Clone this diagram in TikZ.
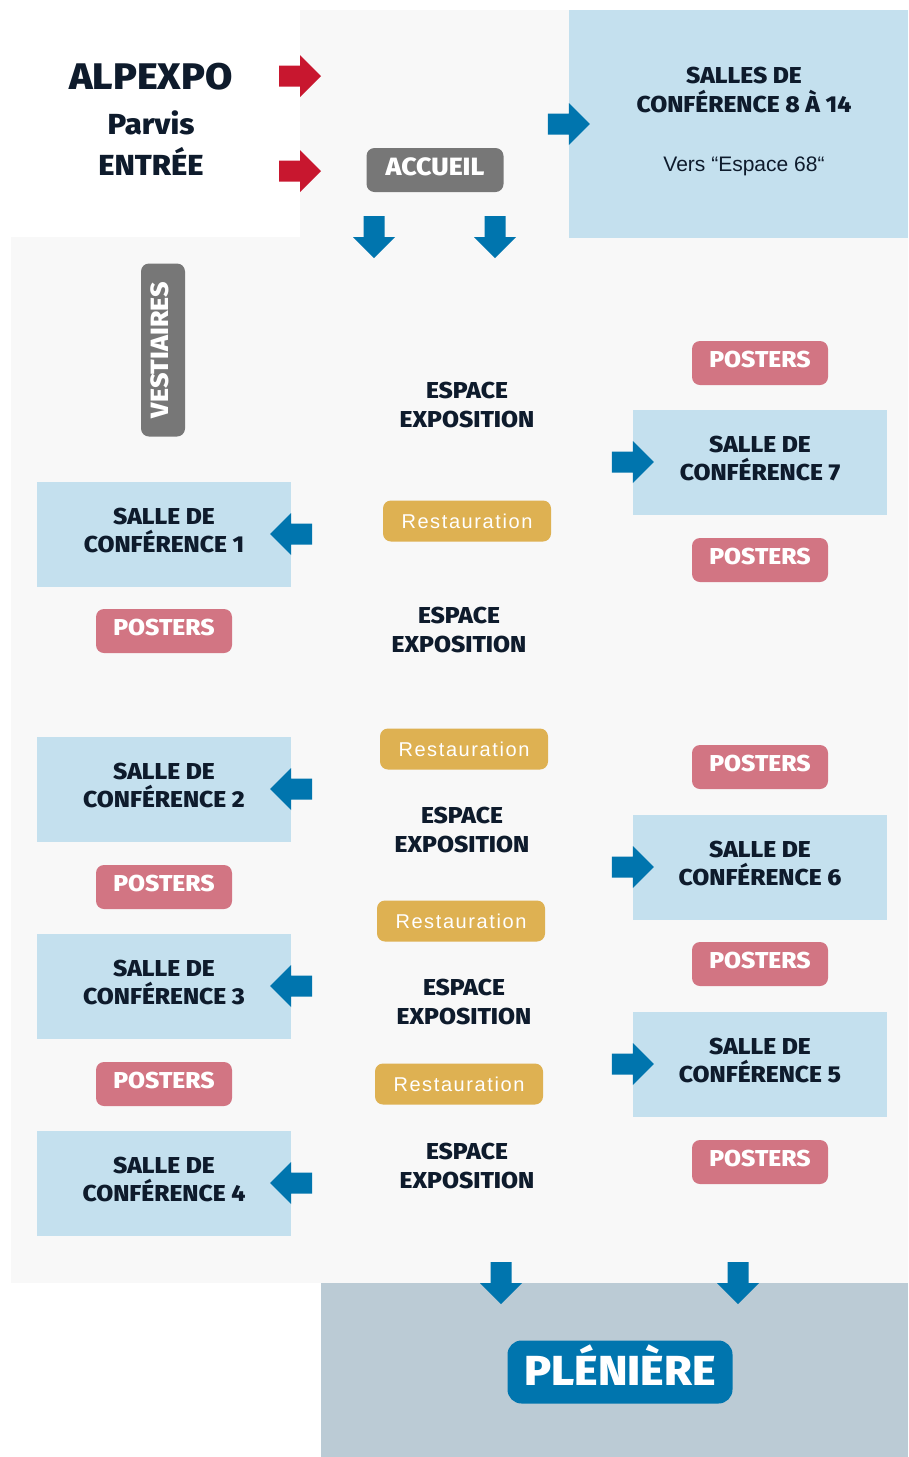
\documentclass[tikz,border=0pt]{standalone}
\usepackage{fontspec}
\setmainfont{Fira Sans}[BoldFont={Fira Sans ExtraBold}, BoldFeatures={FakeStretch=1.07}]
\newfontfamily\plainfont{Liberation Sans}
\newfontfamily\spacedfont{Liberation Sans}[LetterSpace=8]
\definecolor{hallgray}{HTML}{F8F8F8}
\definecolor{roomblue}{HTML}{C4E0EE}
\definecolor{inknavy}{HTML}{0E1B2C}
\definecolor{btngray}{HTML}{777777}
\definecolor{posterrose}{HTML}{D27583}
\definecolor{foodgold}{HTML}{DEB152}
\definecolor{arrowblue}{HTML}{0075AE}
\definecolor{entryred}{HTML}{C8172F}
\definecolor{plenbg}{HTML}{BBCBD5}
\tikzset{
  room/.style={fill=roomblue, text=inknavy, minimum width=254, minimum height=105,
    inner sep=0, align=center, text depth=8pt, font=\bfseries\fontsize{23}{28}\selectfont},
  poster/.style={fill=posterrose, text=white, rounded corners=8, minimum width=136,
    minimum height=44, inner sep=0, text depth=7pt, font=\bfseries\fontsize{23}{28}\selectfont},
  resto/.style={fill=foodgold, text=white, rounded corners=8, minimum width=168,
    minimum height=41, inner sep=0, font=\spacedfont\fontsize{20}{24}\selectfont},
  expo/.style={text=inknavy, align=center, inner sep=0, font=\bfseries\fontsize{23}{28.5}\selectfont},
  greybtn/.style={fill=btngray, text=white, rounded corners=8, inner sep=0, text depth=7pt,
    font=\bfseries\fontsize{25}{28}\selectfont},
  bigarrow/.pic={\fill (-21,-10.5) -- (0,-10.5) -- (0,-21) -- (21,0) -- (0,21) -- (0,10.5) -- (-21,10.5) -- cycle;}
}

\begin{document}
\begin{tikzpicture}[x=1pt, y=-1pt]
    \useasboundingbox (0,0) rectangle (908,1457);

    % Halls
    \fill[hallgray] (300,10) rectangle (569,237); % entrance hall
    \fill[hallgray] (11,237) rectangle (908,1283); % main hall
    \fill[plenbg] (321,1283) rectangle (908,1457); % plenary

    % Entrance
    \node[text=inknavy, font=\bfseries\fontsize{37}{40}\selectfont] (alpexpo) at (151,77) {ALPEXPO};
    \node[text=inknavy, font=\bfseries\fontsize{29}{30}\selectfont] (parvis) at (151,123) {Parvis};
    \node[text=inknavy, font=\bfseries\fontsize{29}{30}\selectfont] (entree) at (151,161) {ENTRÉE};
    \foreach \y in {76, 171}
        \pic[entryred] at (300,\y) {bigarrow};

    \node[greybtn, minimum width=137, minimum height=44] (accueil) at (435,170) {ACCUEIL};
    \foreach \x in {374, 495}
        \pic[arrowblue, rotate=-90] at (\x,237) {bigarrow};

    % Rooms 8 to 14
    \node[room, minimum width=339, minimum height=228] (s814) at (738.5,124) {};
    \node[text=inknavy, align=center, font=\bfseries\fontsize{23}{29}\selectfont] (s814title) at (744,90) {SALLES DE\\CONFÉRENCE 8 À 14};
    \node[text=inknavy, font=\plainfont\fontsize{21}{24}\selectfont] (s814note) at (744,166) {Vers “Espace 68“};
    \pic[arrowblue] at (s814.west) {bigarrow};

    \node[greybtn, rotate=90, minimum width=173, minimum height=44] (vestiaires) at (163,350) {VESTIAIRES};

    % Rooms on the left
    \foreach \n/\y in {1/534, 2/789, 3/986, 4/1183} {
        \node[room] (s\n) at (164,\y) {SALLE DE\\CONFÉRENCE \n};
        \pic[arrowblue, rotate=180] at (s\n.east) {bigarrow};
    }
    % Rooms on the right
    \foreach \n/\y in {7/462, 6/867, 5/1064} {
        \node[room] (s\n) at (760,\y) {SALLE DE\\CONFÉRENCE \n};
        \pic[arrowblue] at (s\n.west) {bigarrow};
    }

    % Posters
    \foreach \x/\y [count=\i] in {164/631, 164/887, 164/1084, 760/363, 760/560, 760/767, 760/964, 760/1162}
        \node[poster] (p\i) at (\x,\y) {POSTERS};

    % Exhibition and food
    \foreach \x/\y [count=\i] in {467/405, 459/630, 462/830, 464/1002, 467/1166}
        \node[expo] (e\i) at (\x,\y) {ESPACE\\EXPOSITION};
    \foreach \x/\y [count=\i] in {467/521, 464/749, 461/921, 459/1084}
        \node[resto] (r\i) at (\x,\y) {Restauration};

    % Plenary
    \foreach \x in {501, 738}
        \pic[arrowblue, rotate=-90] at (\x,1283) {bigarrow};
    \node[fill=arrowblue, text=white, rounded corners=14, minimum width=225, minimum height=63,
        inner sep=0, text depth=14pt, font=\bfseries\fontsize{42}{46}\selectfont] (pleniere) at (620,1372) {PLÉNIÈRE};
\end{tikzpicture}
\end{document}
